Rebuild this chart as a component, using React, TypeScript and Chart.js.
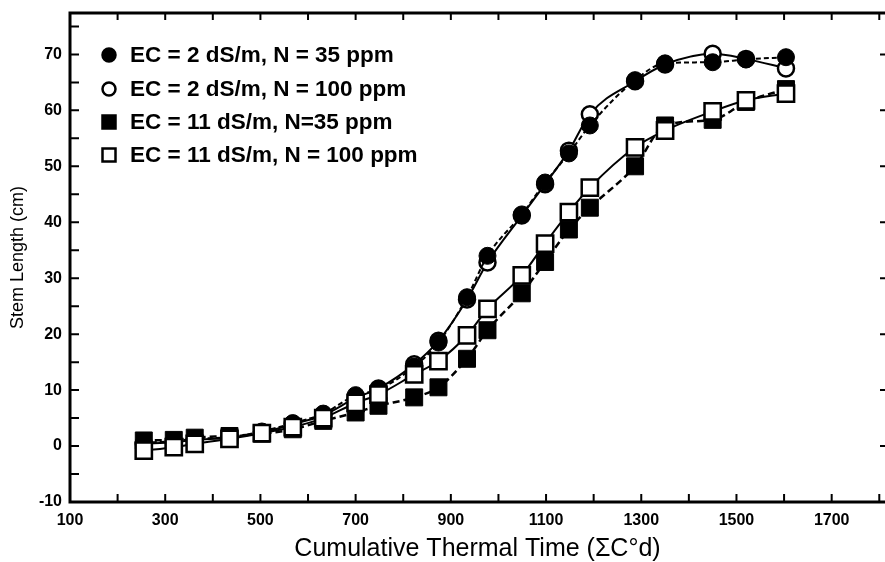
import { useEffect, useRef } from 'react';
import { Chart, registerables } from 'chart.js';

Chart.register(...registerables);

// Cumulative thermal time (°C·d) of each sampling
const thermalTime = [255, 318, 362, 435, 503, 568, 632, 700, 748, 823, 874, 934, 977, 1049, 1098, 1148, 1192, 1287, 1350, 1450, 1520, 1604];

// Stem length (cm)
const ec2n35 = [0.6, 0.9, 1.3, 1.6, 2.6, 4.1, 5.8, 9.1, 10.1, 14.2, 18.5, 26.6, 34.0, 41.4, 47.1, 52.3, 57.3, 65.4, 68.4, 68.6, 69.1, 69.5];
const ec2n100 = [0.4, 0.7, 1.1, 1.5, 2.4, 3.9, 5.5, 8.6, 10.3, 14.6, 18.8, 26.2, 32.8, 41.2, 46.8, 52.8, 59.3, 65.2, 68.2, 70.1, 69.2, 67.5];
const ec11n35 = [1.0, 1.1, 1.5, 1.8, 2.2, 3.0, 4.5, 6.0, 7.2, 8.7, 10.5, 15.6, 20.7, 27.3, 32.9, 38.7, 42.6, 50.0, 57.3, 58.3, 61.5, 63.8];
const ec11n100 = [-0.8, -0.2, 0.4, 1.3, 2.3, 3.4, 5.0, 7.7, 9.2, 12.8, 15.2, 19.8, 24.5, 30.5, 36.2, 41.8, 46.2, 53.4, 56.4, 59.8, 61.8, 63.0];

const seriesLabels = [
  'EC = 2 dS/m, N = 35 ppm',
  'EC = 2 dS/m, N = 100 ppm',
  'EC = 11 dS/m, N=35 ppm',
  'EC = 11 dS/m, N = 100 ppm',
];

const xLabelTicks = [100, 300, 500, 700, 900, 1100, 1300, 1500, 1700];
const xMinorTicks = [200, 400, 600, 800, 1000, 1200, 1400, 1600, 1800];
const yLabelTicks = [-10, 0, 10, 20, 30, 40, 50, 60, 70];
const yMinorTicks = [-5, 5, 15, 25, 35, 45, 55, 65, 75];

const FONT = '"Liberation Sans", Arial, Helvetica, sans-serif';

const toPoints = (ys: number[]) => thermalTime.map((x, i) => ({ x, y: ys[i] }));

const framePlugin = {
  id: 'frame',
  afterDraw(chart: any) {
    const { ctx, chartArea, scales } = chart;
    const W = chart.width;
    const { left, top, bottom } = chartArea;
    ctx.save();
    ctx.strokeStyle = '#000';
    ctx.lineCap = 'butt';
    // axes lines
    ctx.lineWidth = 3;
    ctx.beginPath();
    ctx.moveTo(left, top - 1.5);
    ctx.lineTo(left, bottom + 1.5);
    ctx.moveTo(left - 1.5, bottom);
    ctx.lineTo(W, bottom);
    ctx.moveTo(left - 1.5, top);
    ctx.lineTo(W, top);
    ctx.stroke();
    // ticks
    ctx.lineWidth = 2;
    ctx.beginPath();
    [...xLabelTicks, ...xMinorTicks].forEach((v) => {
      const px = scales.x.getPixelForValue(v);
      if (px <= left + 2) return;
      ctx.moveTo(px, bottom);
      ctx.lineTo(px, bottom - 8);
      ctx.moveTo(px, top);
      ctx.lineTo(px, top + 7);
    });
    [...yLabelTicks, ...yMinorTicks].forEach((v) => {
      const py = scales.y.getPixelForValue(v);
      if (py >= bottom - 2) return;
      ctx.moveTo(left, py);
      ctx.lineTo(left + 9, py);
    });
    yLabelTicks.forEach((v) => {
      const py = scales.y.getPixelForValue(v);
      if (py >= bottom - 2) return;
      ctx.moveTo(W - 5, py);
      ctx.lineTo(W, py);
    });
    ctx.stroke();

    // legend
    const rowY = [55, 89, 122, 155];
    const mx = 109;
    chart.data.datasets.forEach((ds: any, i: number) => {
      const y = rowY[i];
      ctx.lineWidth = 2.5;
      ctx.strokeStyle = '#000';
      ctx.fillStyle = ds.pointBackgroundColor;
      ctx.beginPath();
      if (ds.pointStyle === 'circle') {
        ctx.arc(mx, y, 6.5, 0, Math.PI * 2);
      } else {
        ctx.rect(mx - 6.5, y - 6.5, 13, 13);
      }
      ctx.fill();
      ctx.stroke();
      ctx.fillStyle = '#000';
      ctx.font = `bold 22.5px ${FONT}`;
      ctx.textBaseline = 'middle';
      ctx.textAlign = 'left';
      ctx.fillText(seriesLabels[i], 130, y + 1);
    });
    ctx.restore();
  },
};

export default function App() {
  const ref = useRef<HTMLCanvasElement | null>(null);

  useEffect(() => {
    document.body.style.margin = '0';
    if (!ref.current) return;
    const chart = new Chart(ref.current, {
      type: 'line',
      data: {
        datasets: [
          {
            label: seriesLabels[0],
            data: toPoints(ec2n35),
            order: 2,
            borderColor: '#000',
            borderWidth: 2,
            borderDash: [5, 3],
            pointStyle: 'circle',
            pointRadius: 8.5,
            pointBackgroundColor: '#000',
            pointBorderColor: '#000',
            pointBorderWidth: 1,
            cubicInterpolationMode: 'monotone',
            fill: false,
          },
          {
            label: seriesLabels[1],
            data: toPoints(ec2n100),
            order: 3,
            borderColor: '#000',
            borderWidth: 2,
            pointStyle: 'circle',
            pointRadius: 8,
            pointBackgroundColor: '#fff',
            pointBorderColor: '#000',
            pointBorderWidth: 2.5,
            cubicInterpolationMode: 'monotone',
            fill: false,
          },
          {
            label: seriesLabels[2],
            data: toPoints(ec11n35),
            order: 1,
            borderColor: '#000',
            borderWidth: 2.5,
            borderDash: [7, 4],
            pointStyle: 'rect',
            pointRadius: 12,
            pointBackgroundColor: '#000',
            pointBorderColor: '#000',
            pointBorderWidth: 1,
            cubicInterpolationMode: 'monotone',
            fill: false,
          },
          {
            label: seriesLabels[3],
            data: toPoints(ec11n100),
            order: 0,
            borderColor: '#000',
            borderWidth: 2,
            pointStyle: 'rect',
            pointRadius: 11.5,
            pointBackgroundColor: '#fff',
            pointBorderColor: '#000',
            pointBorderWidth: 2.5,
            cubicInterpolationMode: 'monotone',
            fill: false,
          },
        ],
      },
      options: {
        animation: false,
        responsive: true,
        maintainAspectRatio: false,
        layout: { autoPadding: false, padding: { top: 13, right: 0, left: 0, bottom: 0 } },
        plugins: {
          legend: { display: false },
          tooltip: { enabled: false },
        },
        scales: {
          x: {
            type: 'linear',
            min: 100,
            max: 1812,
            grid: { display: false },
            border: { display: false },
            afterBuildTicks: (scale: any) => {
              scale.ticks = [...xLabelTicks, ...xMinorTicks].sort((a, b) => a - b).map((v) => ({ value: v }));
            },
            afterFit: (scale: any) => {
              scale.height = 60;
              scale.paddingLeft = 0;
              scale.paddingRight = 0;
            },
            ticks: {
              autoSkip: false,
              maxRotation: 0,
              padding: 1,
              color: '#000',
              font: { family: FONT, size: 16, weight: 'bold' },
              callback: (v: any) => (xLabelTicks.includes(Number(v)) ? String(v) : ''),
            },
            title: {
              display: true,
              text: 'Cumulative Thermal Time (\u03A3C\u00B0d)',
              color: '#000',
              font: { family: FONT, size: 25, weight: 'normal', lineHeight: 1 },
              padding: { top: 0, bottom: 0 },
            },
          },
          y: {
            type: 'linear',
            min: -10,
            max: 77.4,
            grid: { display: false },
            border: { display: false },
            afterBuildTicks: (scale: any) => {
              scale.ticks = [...yLabelTicks, ...yMinorTicks].sort((a, b) => a - b).map((v) => ({ value: v }));
            },
            afterFit: (scale: any) => {
              scale.width = 70;
              scale.paddingTop = 0;
              scale.paddingBottom = 0;
            },
            ticks: {
              autoSkip: false,
              padding: 0,
              color: '#000',
              font: { family: FONT, size: 16, weight: 'bold' },
              callback: (v: any) => (yLabelTicks.includes(Number(v)) ? String(v) : ''),
            },
            title: {
              display: true,
              text: 'Stem Length (cm)',
              color: '#000',
              font: { family: FONT, size: 18, weight: 'normal', lineHeight: 1 },
              padding: { top: 9, bottom: 0 },
            },
          },
        },
      },
      plugins: [framePlugin],
    } as any);
    return () => chart.destroy();
  }, []);

  return (
    <div style={{ position: 'relative', width: 885, height: 562, background: '#fff' }}>
      <canvas ref={ref} />
    </div>
  );
}
